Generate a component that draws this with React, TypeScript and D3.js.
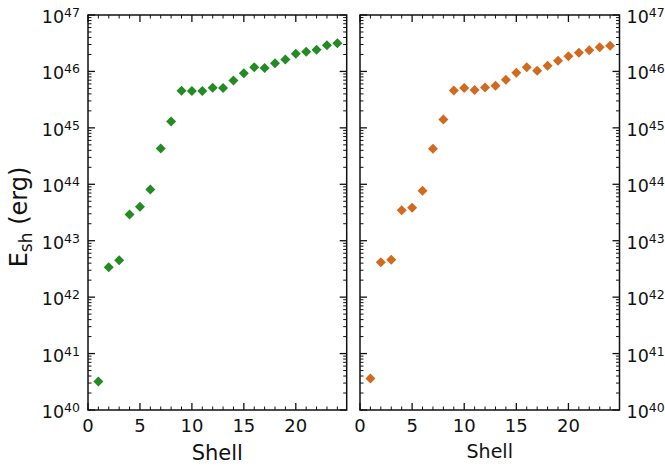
import React from "react";
import * as d3 from "d3";

const shells = [1,2,3,4,5,6,7,8,9,10,11,12,13,14,15,16,17,18,19,20,21,22,23,24];
const leftValues = [3.2e40, 3.4e42, 4.5e42, 2.9e43, 4.0e43, 8.1e43, 4.3e44, 1.3e45, 4.55e45, 4.5e45, 4.5e45, 5.15e45, 5.1e45, 6.9e45, 9.3e45, 1.18e46, 1.15e46, 1.39e46, 1.62e46, 2.06e46, 2.24e46, 2.43e46, 2.9e46, 3.15e46];
const rightValues = [3.6e40, 4.15e42, 4.6e42, 3.46e43, 3.85e43, 7.7e43, 4.27e44, 1.4e45, 4.6e45, 5.1e45, 4.7e45, 5.2e45, 5.6e45, 7.1e45, 9.5e45, 1.18e46, 1.03e46, 1.26e46, 1.55e46, 1.85e46, 2.15e46, 2.37e46, 2.67e46, 2.86e46];
const xMajorTicks = [0, 5, 10, 15, 20];
const yExponents = [40, 41, 42, 43, 44, 45, 46, 47];
const xLabel = "Shell";
const yLabelMain = "E";
const yLabelSub = "sh";
const yLabelUnit = " (erg)";

const FONT = "DejaVu Sans";
const TOP = 15;
const BOTTOM = 410;
const INK = "#111";

type PanelProps = {
  x0: number;
  x1: number;
  values: number[];
  color: string;
  labelSide: "left" | "right";
  xLabelSize: number;
};

function Panel({ x0, x1, values, color, labelSide, xLabelSize }: PanelProps) {
  const x = d3.scaleLinear().domain([0, 24.9]).range([x0, x1]);
  const y = d3.scaleLog().domain([1e40, 1e47]).range([BOTTOM, TOP]);
  const minorX = d3.range(0, 25).filter((v) => v % 5 !== 0);
  const minorY: number[] = [];
  for (let e = 40; e < 47; e++) {
    for (let m = 2; m <= 9; m++) minorY.push(m * Math.pow(10, e));
  }
  const majL = 7;
  const minL = 3.5;
  const r = 5;
  return (
    <g>
      {shells.map((s, i) => {
        const cx = x(s);
        const cy = y(values[i]);
        return (
          <path
            key={"m" + i}
            d={`M${cx},${cy - r}L${cx + r},${cy}L${cx},${cy + r}L${cx - r},${cy}Z`}
            fill={color}
          />
        );
      })}
      {xMajorTicks.map((t) => (
        <g key={"xM" + t}>
          <line x1={x(t)} x2={x(t)} y1={BOTTOM} y2={BOTTOM - majL} stroke={INK} strokeWidth={1.3} />
          <line x1={x(t)} x2={x(t)} y1={TOP} y2={TOP + majL} stroke={INK} strokeWidth={1.3} />
          <text x={x(t)} y={BOTTOM + 22} textAnchor="middle" fontFamily={FONT} fontSize={18} fill={INK}>
            {t}
          </text>
        </g>
      ))}
      {minorX.map((t) => (
        <g key={"xm" + t}>
          <line x1={x(t)} x2={x(t)} y1={BOTTOM} y2={BOTTOM - minL} stroke={INK} strokeWidth={1} />
          <line x1={x(t)} x2={x(t)} y1={TOP} y2={TOP + minL} stroke={INK} strokeWidth={1} />
        </g>
      ))}
      {yExponents.map((e) => {
        const yy = y(Math.pow(10, e));
        return (
          <g key={"yM" + e}>
            <line x1={x0} x2={x0 + majL} y1={yy} y2={yy} stroke={INK} strokeWidth={1.3} />
            <line x1={x1} x2={x1 - majL} y1={yy} y2={yy} stroke={INK} strokeWidth={1.3} />
            {labelSide === "left" ? (
              <text x={x0 - 8} y={yy + 8} textAnchor="end" fontFamily={FONT} fontSize={17.5} fill={INK}>
                10<tspan fontSize={12.5} dy={-6}>{e}</tspan>
              </text>
            ) : (
              <text x={x1 + 7} y={yy + 8} textAnchor="start" fontFamily={FONT} fontSize={17.5} fill={INK}>
                10<tspan fontSize={12.5} dy={-6}>{e}</tspan>
              </text>
            )}
          </g>
        );
      })}
      {minorY.map((v, i) => {
        const yy = y(v);
        return (
          <g key={"ym" + i}>
            <line x1={x0} x2={x0 + minL} y1={yy} y2={yy} stroke={INK} strokeWidth={1} />
            <line x1={x1} x2={x1 - minL} y1={yy} y2={yy} stroke={INK} strokeWidth={1} />
          </g>
        );
      })}
      <rect x={x0} y={TOP} width={x1 - x0} height={BOTTOM - TOP} fill="none" stroke={INK} strokeWidth={1.5} />
      <text
        x={(x0 + x1) / 2}
        y={labelSide === "left" ? 460 : 458}
        textAnchor="middle"
        fontFamily={FONT}
        fontSize={xLabelSize}
        fill={INK}
      >
        {xLabel}
      </text>
    </g>
  );
}

export default function App() {
  return (
    <svg
      width={665}
      height={466}
      style={{ position: "absolute", left: 0, top: 0, background: "#fff" }}
    >
      <rect x={0} y={0} width={665} height={466} fill="#fff" />
      <Panel x0={88} x1={346.7} values={leftValues} color="#228B22" labelSide="left" xLabelSize={21} />
      <Panel x0={360} x1={619.5} values={rightValues} color="#D2691E" labelSide="right" xLabelSize={19} />
      <text
        transform="translate(26.5,217) rotate(-90)"
        textAnchor="middle"
        fontFamily={FONT}
        fontSize={24}
        fill={INK}
      >
        {yLabelMain}
        <tspan fontSize={17} dy={5}>{yLabelSub}</tspan>
        <tspan dy={-5}>{yLabelUnit}</tspan>
      </text>
    </svg>
  );
}
